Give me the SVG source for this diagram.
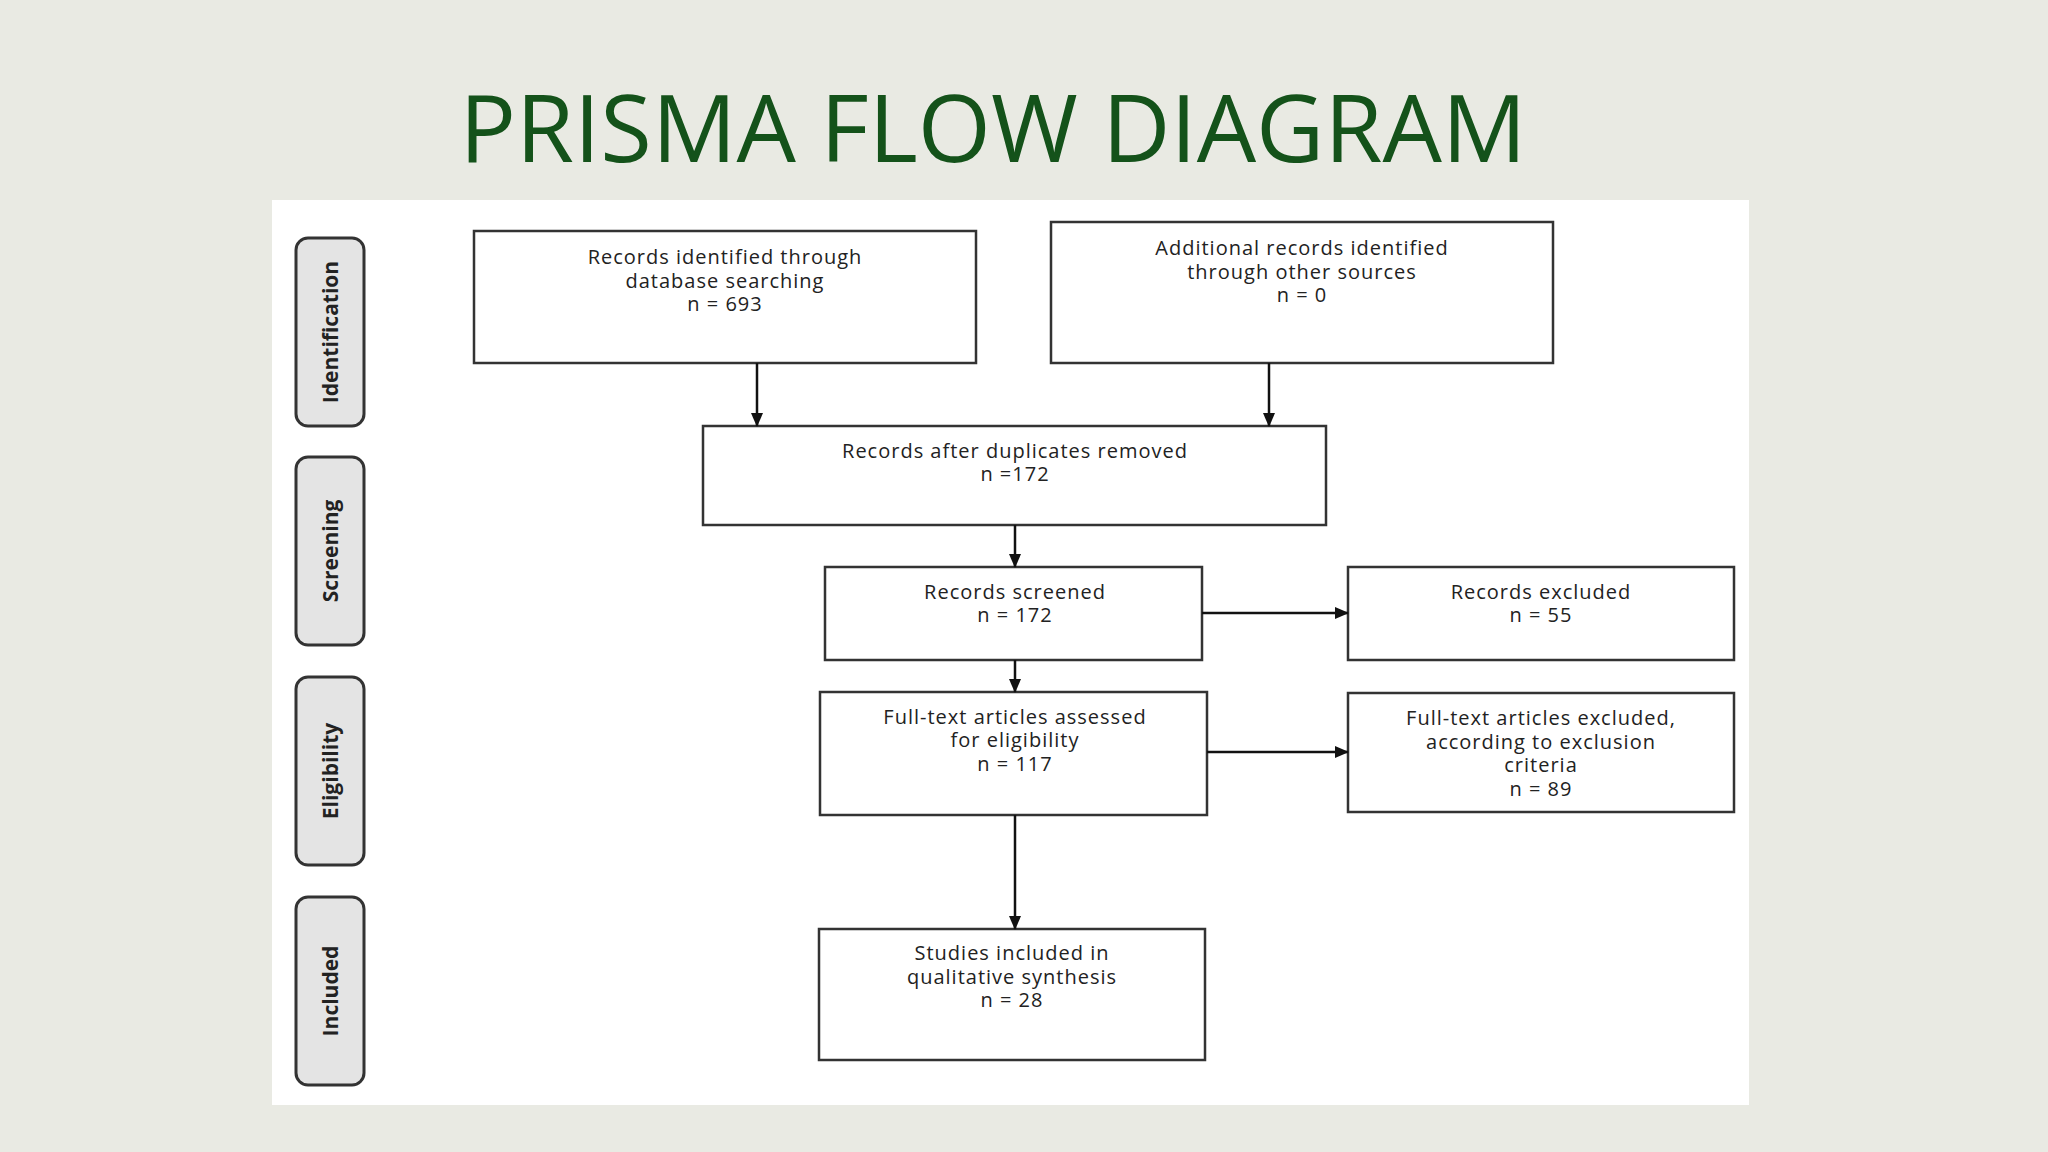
<svg xmlns="http://www.w3.org/2000/svg" width="2048" height="1152" viewBox="0 0 2048 1152">
<style>
.b{fill:#fff;stroke:#333;stroke-width:2.5}
.s{fill:#e4e4e4;stroke:#333;stroke-width:3}
.t{font-family:"Open Sans",sans-serif;font-size:20px;letter-spacing:1px;fill:#222;text-anchor:middle}
.st{font-family:"Open Sans",sans-serif;font-size:21px;font-weight:bold;fill:#222;text-anchor:middle}
.c{stroke:#111;stroke-width:2.5;fill:none;marker-end:url(#a)}
</style>
<defs><marker id="a" markerWidth="14" markerHeight="14" refX="13" refY="7" orient="auto" markerUnits="userSpaceOnUse"><path d="M0,1L14,7L0,13z" fill="#111"/></marker></defs>
<rect width="2048" height="1152" fill="#e9eae3"/>
<text x="993" y="162" font-family="Open Sans,sans-serif" font-size="94" fill="#14521a" text-anchor="middle">PRISMA FLOW DIAGRAM</text>
<rect x="272" y="200" width="1477" height="905" fill="#fff"/>
<g id="lab-identification"><rect class="s" x="296" y="238" width="68" height="188" rx="12"/><text class="st" transform="translate(338,332) rotate(-90)">Identification</text></g>
<g id="lab-screening"><rect class="s" x="296" y="457" width="68" height="188" rx="12"/><text class="st" transform="translate(338,551) rotate(-90)">Screening</text></g>
<g id="lab-eligibility"><rect class="s" x="296" y="677" width="68" height="188" rx="12"/><text class="st" transform="translate(338,771) rotate(-90)">Eligibility</text></g>
<g id="lab-included"><rect class="s" x="296" y="897" width="68" height="188" rx="12"/><text class="st" transform="translate(338,991) rotate(-90)">Included</text></g>
<g id="n1"><rect class="b" x="474" y="231" width="502" height="132"/><text class="t" x="725" y="264">Records identified through</text><text class="t" x="725" y="288">database searching</text><text class="t" x="725" y="311">n = 693</text></g>
<g id="n2"><rect class="b" x="1051" y="222" width="502" height="141"/><text class="t" x="1302" y="255">Additional records identified</text><text class="t" x="1302" y="279">through other sources</text><text class="t" x="1302" y="302">n = 0</text></g>
<g id="n3"><rect class="b" x="703" y="426" width="623" height="99"/><text class="t" x="1015" y="458">Records after duplicates removed</text><text class="t" x="1015" y="481">n =172</text></g>
<g id="n4"><rect class="b" x="825" y="567" width="377" height="93"/><text class="t" x="1015" y="599">Records screened</text><text class="t" x="1015" y="622">n = 172</text></g>
<g id="n5"><rect class="b" x="1348" y="567" width="386" height="93"/><text class="t" x="1541" y="599">Records excluded</text><text class="t" x="1541" y="622">n = 55</text></g>
<g id="n6"><rect class="b" x="820" y="692" width="387" height="123"/><text class="t" x="1015" y="724">Full-text articles assessed</text><text class="t" x="1015" y="747">for eligibility</text><text class="t" x="1015" y="771">n = 117</text></g>
<g id="n7"><rect class="b" x="1348" y="693" width="386" height="119"/><text class="t" x="1541" y="725">Full-text articles excluded,</text><text class="t" x="1541" y="749">according to exclusion</text><text class="t" x="1541" y="772">criteria</text><text class="t" x="1541" y="796">n = 89</text></g>
<g id="n8"><rect class="b" x="819" y="929" width="386" height="131"/><text class="t" x="1012" y="960">Studies included in</text><text class="t" x="1012" y="984">qualitative synthesis</text><text class="t" x="1012" y="1007">n = 28</text></g>
<g id="connectors">
<path class="c" d="M757,363V426"/><path class="c" d="M1269,363V426"/>
<path class="c" d="M1015,525V567"/><path class="c" d="M1015,660V692"/><path class="c" d="M1015,815V929"/>
<path class="c" d="M1202,613H1348"/><path class="c" d="M1207,752H1348"/>
</g>
</svg>
